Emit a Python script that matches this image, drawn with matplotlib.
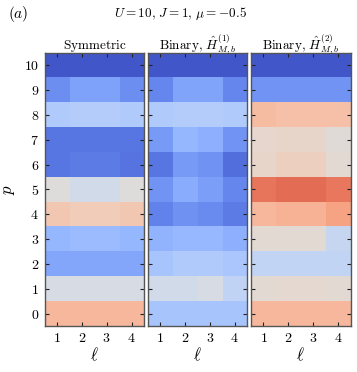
import numpy as np
import matplotlib
matplotlib.use("Agg")
import matplotlib.pyplot as plt

plt.rcParams["mathtext.fontset"] = "cm"
plt.rcParams["font.family"] = "serif"
plt.rcParams["font.serif"] = ["cmr10", "DejaVu Serif"]
plt.rcParams["axes.unicode_minus"] = False
plt.rcParams["axes.formatter.use_mathtext"] = True

ells = [1, 2, 3, 4]
ps = list(range(11))

# rows p = 0 .. 10, columns l = 1 .. 4
symmetric = [
    [0.33, 0.33, 0.33, 0.33],
    [-0.05, -0.05, -0.05, -0.05],
    [-0.55, -0.55, -0.55, -0.55],
    [-0.45, -0.42, -0.42, -0.45],
    [0.22, 0.18, 0.18, 0.22],
    [0.00, -0.08, -0.08, 0.00],
    [-0.80, -0.78, -0.78, -0.82],
    [-0.80, -0.80, -0.80, -0.80],
    [-0.30, -0.28, -0.28, -0.30],
    [-0.68, -0.58, -0.58, -0.68],
    [-0.95, -0.95, -0.95, -0.95],
]
binary1 = [
    [-0.35, -0.35, -0.35, -0.35],
    [-0.08, -0.08, -0.05, -0.20],
    [-0.35, -0.30, -0.30, -0.33],
    [-0.47, -0.44, -0.44, -0.50],
    [-0.75, -0.67, -0.70, -0.78],
    [-0.65, -0.52, -0.60, -0.72],
    [-0.80, -0.62, -0.66, -0.84],
    [-0.62, -0.45, -0.50, -0.65],
    [-0.30, -0.28, -0.28, -0.30],
    [-0.72, -0.57, -0.57, -0.72],
    [-0.95, -0.95, -0.95, -0.95],
]
binary2 = [
    [0.33, 0.33, 0.33, 0.33],
    [0.05, 0.06, 0.06, 0.05],
    [-0.18, -0.18, -0.18, -0.18],
    [0.05, 0.05, 0.05, -0.15],
    [0.33, 0.37, 0.37, 0.45],
    [0.66, 0.70, 0.70, 0.65],
    [0.10, 0.15, 0.15, 0.05],
    [0.08, 0.10, 0.10, 0.03],
    [0.30, 0.28, 0.28, 0.28],
    [-0.65, -0.65, -0.65, -0.65],
    [-0.95, -0.95, -0.95, -0.95],
]

panels = [
    (symmetric, r"$\mathrm{Symmetric}$"),
    (binary1, r"$\mathrm{Binary},\,\hat{H}^{(1)}_{M,b}$"),
    (binary2, r"$\mathrm{Binary},\,\hat{H}^{(2)}_{M,b}$"),
]

fig = plt.figure(figsize=(3.57, 3.72), dpi=100)
lefts = [44.5 / 357, 147.5 / 357, 251 / 357]
w = 99.5 / 357
bottom = 1 - 326 / 372
h = (326 - 52.7) / 372

for i, (vals, title) in enumerate(panels):
    ax = fig.add_axes([lefts[i], bottom, w, h])
    ax.imshow(np.array(vals), cmap="coolwarm", vmin=-1, vmax=1,
              origin="lower", aspect="auto",
              extent=[0.5, 4.5, -0.5, 10.5])
    ax.set_xticks(ells)
    ax.set_yticks(ps)
    ax.set_xticklabels([rf"${e}$" for e in ells])
    ax.tick_params(direction="in", top=True, right=True, length=3,
                   width=0.8, labelsize=10, color="#222222", pad=4)
    if i == 0:
        ax.set_yticklabels([rf"${p}$" for p in ps])
        ax.set_ylabel(r"$p$", fontsize=12, labelpad=5)
    else:
        ax.set_yticklabels([])
    ax.set_xlabel(r"$\ell$", fontsize=12, labelpad=1)
    ax.set_title(title, fontsize=9.5, pad=3)
    for s in ax.spines.values():
        s.set_color("#555555")
        s.set_linewidth(1.0)

fig.text(8 / 357, 1 - 14 / 372, r"$(a)$", fontsize=11, ha="left", va="center")
fig.text(180 / 357, 1 - 14 / 372, r"$U=10,\,J=1,\,\mu=-0.5$", fontsize=9.5,
         ha="center", va="center")

fig.savefig("out.png", dpi=100)
